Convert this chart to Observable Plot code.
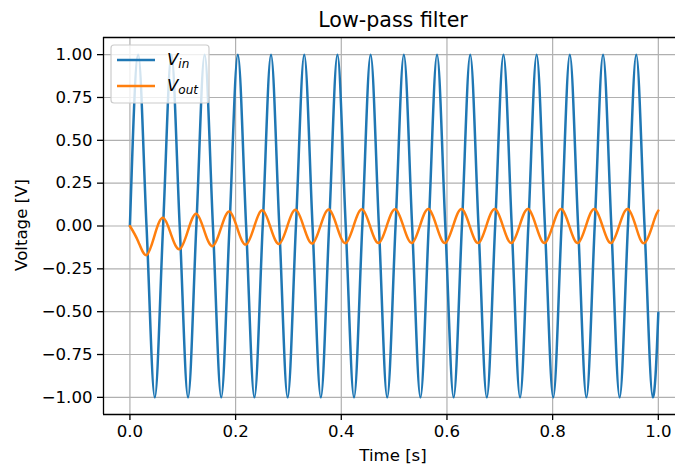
<!DOCTYPE html>
<html>
<head>
<meta charset="utf-8">
<script src="https://cdn.jsdelivr.net/npm/d3@7"></script>
<script src="https://cdn.jsdelivr.net/npm/@observablehq/plot@0.6"></script>
<style>
  html, body { margin: 0; padding: 0; background: #ffffff; overflow: hidden; }
  #chart svg { display: block; }
</style>
</head>
<body>
<div id="chart"></div>
<script>
// Sample times (s), read at the quarter-period points of the input wave
const time = [
  0, 0.0157, 0.0314, 0.0471, 0.0628, 0.0785, 0.0942, 0.1100, 0.1257, 0.1414,
  0.1571, 0.1728, 0.1885, 0.2042, 0.2199, 0.2356, 0.2513, 0.2670, 0.2827, 0.2985,
  0.3142, 0.3299, 0.3456, 0.3613, 0.3770, 0.3927, 0.4084, 0.4241, 0.4398, 0.4555,
  0.4712, 0.4869, 0.5027, 0.5184, 0.5341, 0.5498, 0.5655, 0.5812, 0.5969, 0.6126,
  0.6283, 0.6440, 0.6597, 0.6754, 0.6912, 0.7069, 0.7226, 0.7383, 0.7540, 0.7697,
  0.7854, 0.8011, 0.8168, 0.8325, 0.8482, 0.8639, 0.8796, 0.8954, 0.9111, 0.9268,
  0.9425, 0.9582, 0.9739, 0.9896, 0.9922, 0.9948, 0.9974, 1.0
];
// Input voltage V_in
const vin = [
  0, 1, 0, -1, 0, 1, 0, -1, 0, 1,
  0, -1, 0, 1, 0, -1, 0, 1, 0, -1,
  0, 1, 0, -1, 0, 1, 0, -1, 0, 1,
  0, -1, 0, 1, 0, -1, 0, 1, 0, -1,
  0, 1, 0, -1, 0, 1, 0, -1, 0, 1,
  0, -1, 0, 1, 0, -1, 0, 1, 0, -1,
  0, 1, 0, -1, -0.966, -0.868, -0.707, -0.506
];
// Output voltage V_out
const vout = [
  0, -0.09, -0.17, -0.05, 0.048, -0.055, -0.135, -0.025, 0.072, -0.034,
  -0.117, -0.008, 0.085, -0.022, -0.108, 0.0, 0.091, -0.017, -0.104, 0.005,
  0.094, -0.014, -0.102, 0.007, 0.096, -0.012, -0.1, 0.008, 0.097, -0.011,
  -0.099, 0.009, 0.098, -0.01, -0.099, 0.01, 0.099, -0.01, -0.099, 0.01,
  0.099, -0.01, -0.099, 0.01, 0.099, -0.01, -0.099, 0.01, 0.099, -0.01,
  -0.099, 0.01, 0.099, -0.01, -0.099, 0.01, 0.099, -0.01, -0.099, 0.01,
  0.099, -0.01, -0.099, 0.01, 0.035, 0.058, 0.076, 0.09
];
const xTicks = [0, 0.2, 0.4, 0.6, 0.8, 1.0];
const yTicks = [-1, -0.75, -0.5, -0.25, 0, 0.25, 0.5, 0.75, 1];
const titleText = "Low-pass filter";
const xLabel = "Time [s]";
const yLabel = "Voltage [V]";
const seriesNames = [["V", "in"], ["V", "out"]];
const colors = ["#1f77b4", "#ff7f0e"];

const vinData = time.map((t, i) => ({t, v: vin[i]}));
const voutData = time.map((t, i) => ({t, v: vout[i]}));

const W = 675, H = 465;
const mL = 103, mR = 0, mT = 37, mB = 51;
const grid = {stroke: "#b0b0b0", strokeOpacity: 1, strokeWidth: 1.2};
const fs = 16.6;

const chart = Plot.plot({
  width: W, height: H,
  marginLeft: mL, marginRight: mR, marginTop: mT, marginBottom: mB,
  style: {fontFamily: "DejaVu Sans", fontSize: fs + "px", color: "#000", background: "#fff"},
  x: {domain: [-0.05, 1.0325]},
  y: {domain: [-1.1, 1.1]},
  marks: [
    Plot.gridX(xTicks, grid),
    Plot.gridY(yTicks, grid),
    Plot.line(vinData, {x: "t", y: "v", stroke: colors[0], strokeWidth: 2.5, curve: "monotone-x"}),
    Plot.line(voutData, {x: "t", y: "v", stroke: colors[1], strokeWidth: 2.5, curve: "natural"}),
    Plot.axisX(xTicks, {tickSize: 6, tickPadding: 5, strokeWidth: 1.3, fontSize: fs, label: null, tickFormat: d3.format(".1f")}),
    Plot.axisY(yTicks, {tickSize: 6, tickPadding: 5, strokeWidth: 1.3, fontSize: fs, label: null, tickFormat: d3.format(".2f")}),
    Plot.ruleX([-0.05], {stroke: "#000", strokeWidth: 1.3}),
    Plot.ruleY([-1.1, 1.1], {stroke: "#000", strokeWidth: 1.3})
  ]
});
document.getElementById("chart").appendChild(chart);

const svg = d3.select(chart);
const font = "DejaVu Sans";
svg.append("text").attr("x", 393).attr("y", 27).attr("text-anchor", "middle")
  .attr("font-family", font).attr("font-size", 20.6).attr("fill", "#000").text(titleText);
svg.append("text").attr("x", 393).attr("y", 461).attr("text-anchor", "middle")
  .attr("font-family", font).attr("font-size", fs).attr("fill", "#000").text(xLabel);
svg.append("text").attr("transform", "translate(27,225) rotate(-90)").attr("text-anchor", "middle")
  .attr("font-family", font).attr("font-size", fs).attr("fill", "#000").text(yLabel);

// Legend
const lg = svg.append("g");
lg.append("rect").attr("x", 111).attr("y", 45).attr("width", 98).attr("height", 58)
  .attr("rx", 3).attr("fill", "#fff").attr("fill-opacity", 0.8)
  .attr("stroke", "#cccccc").attr("stroke-width", 1.2);
seriesNames.forEach((nm, i) => {
  const yy = 60 + i * 26;
  lg.append("line").attr("x1", 117).attr("x2", 155).attr("y1", yy).attr("y2", yy)
    .attr("stroke", colors[i]).attr("stroke-width", 2.5);
  const t = lg.append("text").attr("x", 167).attr("y", yy + 5).attr("text-anchor", "start")
    .attr("font-family", font).attr("font-size", fs).attr("font-style", "italic").attr("fill", "#000");
  t.append("tspan").text(nm[0]);
  t.append("tspan").attr("font-size", 12).attr("dy", 3).text(nm[1]);
});
</script>
</body>
</html>
